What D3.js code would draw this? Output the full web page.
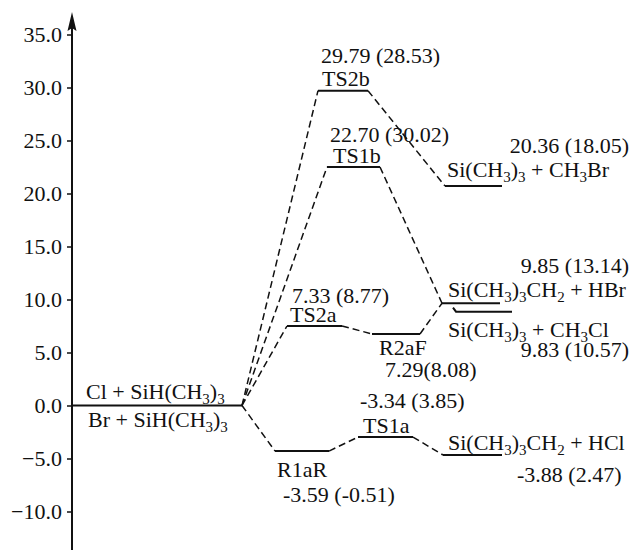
<!DOCTYPE html>
<html>
<head>
<meta charset="utf-8">
<script src="https://cdn.jsdelivr.net/npm/d3@7"></script>
<style>
  html, body { margin: 0; padding: 0; background: #fff; }
  svg { display: block; }
  text { font-family: "Liberation Serif", "Times New Roman", serif; fill: #111; }
</style>
</head>
<body>
<svg id="chart" width="633" height="550"></svg>
<script>
// ---------------- data ----------------
const ids      = ["R", "TS2b", "TS1b", "P_CH3Br", "P_HBr", "P_CH3Cl", "TS2a", "R2aF", "R1aR", "TS1a", "P_HCl"];
const names    = ["Cl + SiH(CH_3)_3|Br + SiH(CH_3)_3", "TS2b", "TS1b", "Si(CH_3)_3 + CH_3Br", "Si(CH_3)_3CH_2 + HBr",
                  "Si(CH_3)_3 + CH_3Cl", "TS2a", "R2aF", "R1aR", "TS1a", "Si(CH_3)_3CH_2 + HCl"];
const energyA  = [null, 29.79, 22.70, 20.36, 9.85, 9.83, 7.33, 7.29, -3.59, -3.34, -3.88];
const energyB  = [null, 28.53, 30.02, 18.05, 13.14, 10.57, 8.77, 8.08, -0.51, 3.85, 2.47];
// level heights as drawn in the (schematic) diagram
const drawnLevel = [0, 29.7, 22.5, 20.7, 9.65, 8.85, 7.5, 6.75, -4.3, -2.98, -4.67];
// reaction-coordinate extent of each level
const rcStart  = [0, 49.2, 51, 74.6, 74, 76.8, 43, 60, 40.6, 57.2, 74.2];
const rcEnd    = [34, 59.2, 61.6, 86, 85.6, 88, 54, 69.6, 51.4, 68.2, 86];
// pathways (dashed connectors)
const pathFrom = ["R", "R", "R", "R", "TS2b", "TS1b", "TS2a", "R2aF", "R1aR", "TS1a"];
const pathTo   = ["TS2b", "TS1b", "TS2a", "R1aR", "P_CH3Br", "P_HBr", "R2aF", "P_HBr", "TS1a", "P_HCl"];
// axis ticks
const tickValues = [35, 30, 25, 20, 15, 10, 5, 0, -5, -10];

// ---------------- layout (positions / styles) ----------------
const W = 633, H = 550, FS = 22, SUB = 15;
const svg = d3.select("#chart");
const x = d3.scaleLinear().domain([0, 100]).range([72, 572]);
const y = d3.scaleLinear().domain([-10, 35]).range([511.5, 34.5]);
const axisX = x(0);

// label placement: [dx from level start (or end), dy from level y, anchor, ref]
const labelLayout = {
  R:       { name: [[14, -7, "start", "x0"], [16, 21, "start", "x0"]] },
  TS2b:    { name: [4, -5, "start", "x0"],  val: [3, -28, "start", "x0"] },
  TS1b:    { name: [6, -4, "start", "x0"],  val: [3, -25, "start", "x0"] },
  P_CH3Br: { name: [2, -9, "start", "x0"],  val: [127, -33, "end", "x1"] },
  P_HBr:   { name: [6, -6, "start", "x0"],  val: [129, -30, "end", "x1"] },
  P_CH3Cl: { name: [-8, 25, "start", "x0"], val: [117, 45, "end", "x1"] },
  TS2a:    { name: [3, -4, "start", "x0"],  val: [5, -23, "start", "x0"] },
  R2aF:    { name: [7, 21, "start", "x0"],  val: [13, 43, "start", "x0"] },
  R1aR:    { name: [2, 26, "start", "x0"],  val: [8, 51, "start", "x0"] },
  TS1a:    { name: [5, -4, "start", "x0"],  val: [2, -29, "start", "x0"] },
  P_HCl:   { name: [5, -5, "start", "x0"],  val: [74, 27, "start", "x0"] }
};

const levels = ids.map((id, i) => ({
  id, name: names[i], a: energyA[i], b: energyB[i],
  x0: x(rcStart[i]), x1: x(rcEnd[i]), y: y(drawnLevel[i])
}));
const byId = Object.fromEntries(levels.map(d => [d.id, d]));

// ---------------- axis ----------------
const axis = d3.axisLeft(y).tickValues(tickValues).tickFormat(d3.format(".1f")).tickSize(5).tickPadding(5);
const gAxis = svg.append("g").attr("transform", `translate(${axisX},0)`).call(axis);
gAxis.select(".domain").remove();
gAxis.selectAll(".tick line").attr("stroke", "#111").attr("stroke-width", 1.5);
gAxis.selectAll(".tick text").attr("font-size", FS).attr("font-family", "Liberation Serif").attr("fill", "#111");

svg.append("line").attr("x1", axisX).attr("x2", axisX).attr("y1", 24).attr("y2", H)
  .attr("stroke", "#111").attr("stroke-width", 2);
svg.append("path")
  .attr("d", `M${axisX},12 L${axisX + 4.5},31 L${axisX},28 L${axisX - 4.5},31 Z`)
  .attr("fill", "#111");

// ---------------- connectors ----------------
svg.append("g").selectAll("line").data(pathFrom.map((f, i) => [byId[f], byId[pathTo[i]]]))
  .join("line")
  .attr("x1", d => d[0].x1).attr("y1", d => d[0].y)
  .attr("x2", d => d[1].x0).attr("y2", d => d[1].y)
  .attr("stroke", "#111").attr("stroke-width", 1.5).attr("stroke-dasharray", "7,4");

// ---------------- levels ----------------
svg.append("g").selectAll("path").data(levels).join("path")
  .attr("d", d => d.id === "P_CH3Cl"
    ? `M${d.x0 - 3},${d.y - 4} L${d.x0},${d.y} L${d.x1},${d.y}`
    : `M${d.x0},${d.y} L${d.x1},${d.y}`)
  .attr("fill", "none").attr("stroke", "#111").attr("stroke-width", 2);

// ---------------- labels ----------------
function richText(g, str, px, py, anchor) {
  const t = g.append("text").attr("x", px).attr("y", py).attr("font-size", FS).attr("text-anchor", anchor);
  const parts = str.split(/(_.)/).filter(s => s.length);
  let shift = 0; // current baseline offset
  parts.forEach(p => {
    if (p[0] === "_") {
      t.append("tspan").attr("font-size", SUB).attr("dy", 5 - shift).text(p[1]);
      shift = 5;
    } else {
      t.append("tspan").attr("dy", -shift).text(p);
      shift = 0;
    }
  });
  return t;
}
const gl = svg.append("g");
function place(d, spec, str) {
  const ref = spec[3] === "x1" ? d.x1 : d.x0;
  richText(gl, str, ref + spec[0], d.y + spec[1], spec[2]);
}
levels.forEach(d => {
  const L = labelLayout[d.id];
  if (d.id === "R") {
    const nm = d.name.split("|");
    place(d, L.name[0], nm[0]);
    place(d, L.name[1], nm[1]);
    return;
  }
  place(d, L.name, d.name);
  const sep = d.id === "R2aF" ? "" : " ";
  place(d, L.val, `${d.a.toFixed(2)}${sep}(${d.b.toFixed(2)})`);
});
</script>
</body>
</html>
